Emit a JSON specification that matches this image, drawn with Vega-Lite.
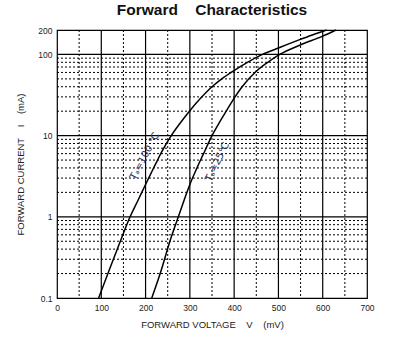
{
  "$schema": "https://vega.github.io/schema/vega-lite/v6.json",
  "width": 310,
  "height": 268,
  "autosize": {"type": "none"},
  "padding": {"left": 57, "top": 30, "right": 40, "bottom": 45},
  "background": "white",
  "config": {
    "view": {"stroke": "black", "strokeWidth": 1.2},
    "font": "Liberation Sans"
  },
  "title": {
    "text": "Forward\u00a0\u00a0\u00a0\u00a0Characteristics",
    "fontSize": 15.5,
    "fontWeight": "bold",
    "color": "#111111",
    "anchor": "middle",
    "offset": 8,
    "font": "Liberation Sans"
  },
  "datasets": {
    "curves": [
      {"T": "100", "V": 94, "I": 0.1},
      {"T": "100", "V": 115, "I": 0.2},
      {"T": "100", "V": 143, "I": 0.5},
      {"T": "100", "V": 165, "I": 1},
      {"T": "100", "V": 183, "I": 1.6},
      {"T": "100", "V": 200, "I": 2.5},
      {"T": "100", "V": 213, "I": 3.5},
      {"T": "100", "V": 227, "I": 5},
      {"T": "100", "V": 241, "I": 7},
      {"T": "100", "V": 258, "I": 10},
      {"T": "100", "V": 277, "I": 14},
      {"T": "100", "V": 299, "I": 20},
      {"T": "100", "V": 322, "I": 28},
      {"T": "100", "V": 350, "I": 40},
      {"T": "100", "V": 372, "I": 50},
      {"T": "100", "V": 397, "I": 62},
      {"T": "100", "V": 430, "I": 80},
      {"T": "100", "V": 464, "I": 100},
      {"T": "100", "V": 500, "I": 120},
      {"T": "100", "V": 545, "I": 150},
      {"T": "100", "V": 578, "I": 175},
      {"T": "100", "V": 609, "I": 200},
      {"T": "25", "V": 214, "I": 0.1},
      {"T": "25", "V": 233, "I": 0.2},
      {"T": "25", "V": 255, "I": 0.5},
      {"T": "25", "V": 274, "I": 1},
      {"T": "25", "V": 287, "I": 1.6},
      {"T": "25", "V": 300, "I": 2.5},
      {"T": "25", "V": 316, "I": 4},
      {"T": "25", "V": 331, "I": 6},
      {"T": "25", "V": 350, "I": 10},
      {"T": "25", "V": 365, "I": 14},
      {"T": "25", "V": 382, "I": 20},
      {"T": "25", "V": 402, "I": 30},
      {"T": "25", "V": 418, "I": 40},
      {"T": "25", "V": 450, "I": 62},
      {"T": "25", "V": 476, "I": 80},
      {"T": "25", "V": 503, "I": 100},
      {"T": "25", "V": 548, "I": 130},
      {"T": "25", "V": 600, "I": 168},
      {"T": "25", "V": 630, "I": 200}
    ],
    "labels": [
      {"T": "100", "V": 198, "I": 5.6, "label": "T\u2090=100 \u2103"},
      {"T": "25", "V": 362, "I": 4.75, "label": "T\u2090=25\u2103"}
    ],
    "vgrid": [
      {"V": 50, "kind": "dot"}, {"V": 150, "kind": "dot"}, {"V": 250, "kind": "dot"},
      {"V": 350, "kind": "dot"}, {"V": 450, "kind": "dot"}, {"V": 550, "kind": "dot"},
      {"V": 650, "kind": "dot"},
      {"V": 100, "kind": "solid"}, {"V": 200, "kind": "solid"}, {"V": 300, "kind": "solid"},
      {"V": 400, "kind": "solid"}, {"V": 500, "kind": "solid"}, {"V": 600, "kind": "solid"}
    ],
    "hgrid": [
      {"I": 0.2, "kind": "dot"}, {"I": 0.3, "kind": "dot"}, {"I": 0.4, "kind": "dot"},
      {"I": 0.5, "kind": "dot"}, {"I": 0.6, "kind": "dot"}, {"I": 0.7, "kind": "dot"},
      {"I": 0.8, "kind": "dot"}, {"I": 0.9, "kind": "dot"},
      {"I": 2, "kind": "dot"}, {"I": 3, "kind": "dot"}, {"I": 4, "kind": "dot"},
      {"I": 5, "kind": "dot"}, {"I": 6, "kind": "dot"}, {"I": 7, "kind": "dot"},
      {"I": 8, "kind": "dot"}, {"I": 9, "kind": "dot"},
      {"I": 20, "kind": "dot"}, {"I": 30, "kind": "dot"}, {"I": 40, "kind": "dot"},
      {"I": 50, "kind": "dot"}, {"I": 60, "kind": "dot"}, {"I": 70, "kind": "dot"},
      {"I": 80, "kind": "dot"}, {"I": 90, "kind": "dot"},
      {"I": 1, "kind": "solid"}, {"I": 10, "kind": "solid"}, {"I": 100, "kind": "solid"}
    ]
  },
  "layer": [
    {
      "data": {"name": "hgrid"},
      "mark": {"type": "rule", "color": "black"},
      "encoding": {
        "y": {
          "field": "I",
          "type": "quantitative",
          "scale": {"type": "log", "domain": [0.1, 200], "nice": false},
          "axis": {
            "values": [0.1, 1, 10, 100, 200],
            "ticks": false,
            "domain": false,
            "grid": false,
            "labelOverlap": false,
            "labelBound": false,
            "labelFlush": false,
            "labelFontSize": 8.5,
            "labelColor": "#222222",
            "labelPadding": 5,
            "format": "~g",
            "title": "FORWARD CURRENT\u00a0\u00a0\u00a0\u00a0I\u00a0\u00a0\u00a0\u00a0(mA)",
            "titleFontSize": 9.5,
            "titleFontWeight": "normal",
            "titleColor": "#222222",
            "titlePadding": 12
          }
        },
        "strokeDash": {
          "field": "kind",
          "type": "nominal",
          "scale": {"domain": ["dot", "solid"], "range": [[2, 2], [1, 0]]},
          "legend": null
        },
        "strokeWidth": {
          "field": "kind",
          "type": "nominal",
          "scale": {"domain": ["dot", "solid"], "range": [1, 1.2]},
          "legend": null
        }
      }
    },
    {
      "data": {"name": "vgrid"},
      "mark": {"type": "rule", "color": "black"},
      "encoding": {
        "x": {
          "field": "V",
          "type": "quantitative",
          "scale": {"domain": [0, 700], "nice": false, "zero": false},
          "axis": {
            "values": [0, 100, 200, 300, 400, 500, 600, 700],
            "ticks": false,
            "domain": false,
            "grid": false,
            "labelOverlap": false,
            "labelBound": false,
            "labelFlush": false,
            "labelFontSize": 8.5,
            "labelColor": "#222222",
            "labelPadding": 5,
            "format": "d",
            "title": "FORWARD VOLTAGE\u00a0\u00a0\u00a0\u00a0V\u00a0\u00a0\u00a0\u00a0(mV)",
            "titleFontSize": 9.5,
            "titleFontWeight": "normal",
            "titleColor": "#222222",
            "titlePadding": 8
          }
        },
        "strokeDash": {
          "field": "kind",
          "type": "nominal",
          "scale": {"domain": ["dot", "solid"], "range": [[2, 2], [1, 0]]},
          "legend": null
        },
        "strokeWidth": {
          "field": "kind",
          "type": "nominal",
          "scale": {"domain": ["dot", "solid"], "range": [1, 1.2]},
          "legend": null
        }
      }
    },
    {
      "data": {"name": "curves"},
      "mark": {"type": "line", "interpolate": "monotone", "color": "black", "strokeWidth": 1.5},
      "encoding": {
        "x": {"field": "V", "type": "quantitative"},
        "y": {"field": "I", "type": "quantitative"},
        "detail": {"field": "T", "type": "nominal"}
      }
    },
    {
      "data": {"name": "labels"},
      "transform": [{"filter": "datum.T == '100'"}],
      "mark": {"type": "text", "angle": -62, "fontSize": 10, "color": "#2a3060", "align": "center", "baseline": "middle", "font": "DejaVu Sans"},
      "encoding": {
        "x": {"field": "V", "type": "quantitative"},
        "y": {"field": "I", "type": "quantitative"},
        "text": {"field": "label"}
      }
    },
    {
      "data": {"name": "labels"},
      "transform": [{"filter": "datum.T == '25'"}],
      "mark": {"type": "text", "angle": -64, "fontSize": 10, "color": "#2a3060", "align": "center", "baseline": "middle", "font": "DejaVu Sans"},
      "encoding": {
        "x": {"field": "V", "type": "quantitative"},
        "y": {"field": "I", "type": "quantitative"},
        "text": {"field": "label"}
      }
    }
  ]
}
